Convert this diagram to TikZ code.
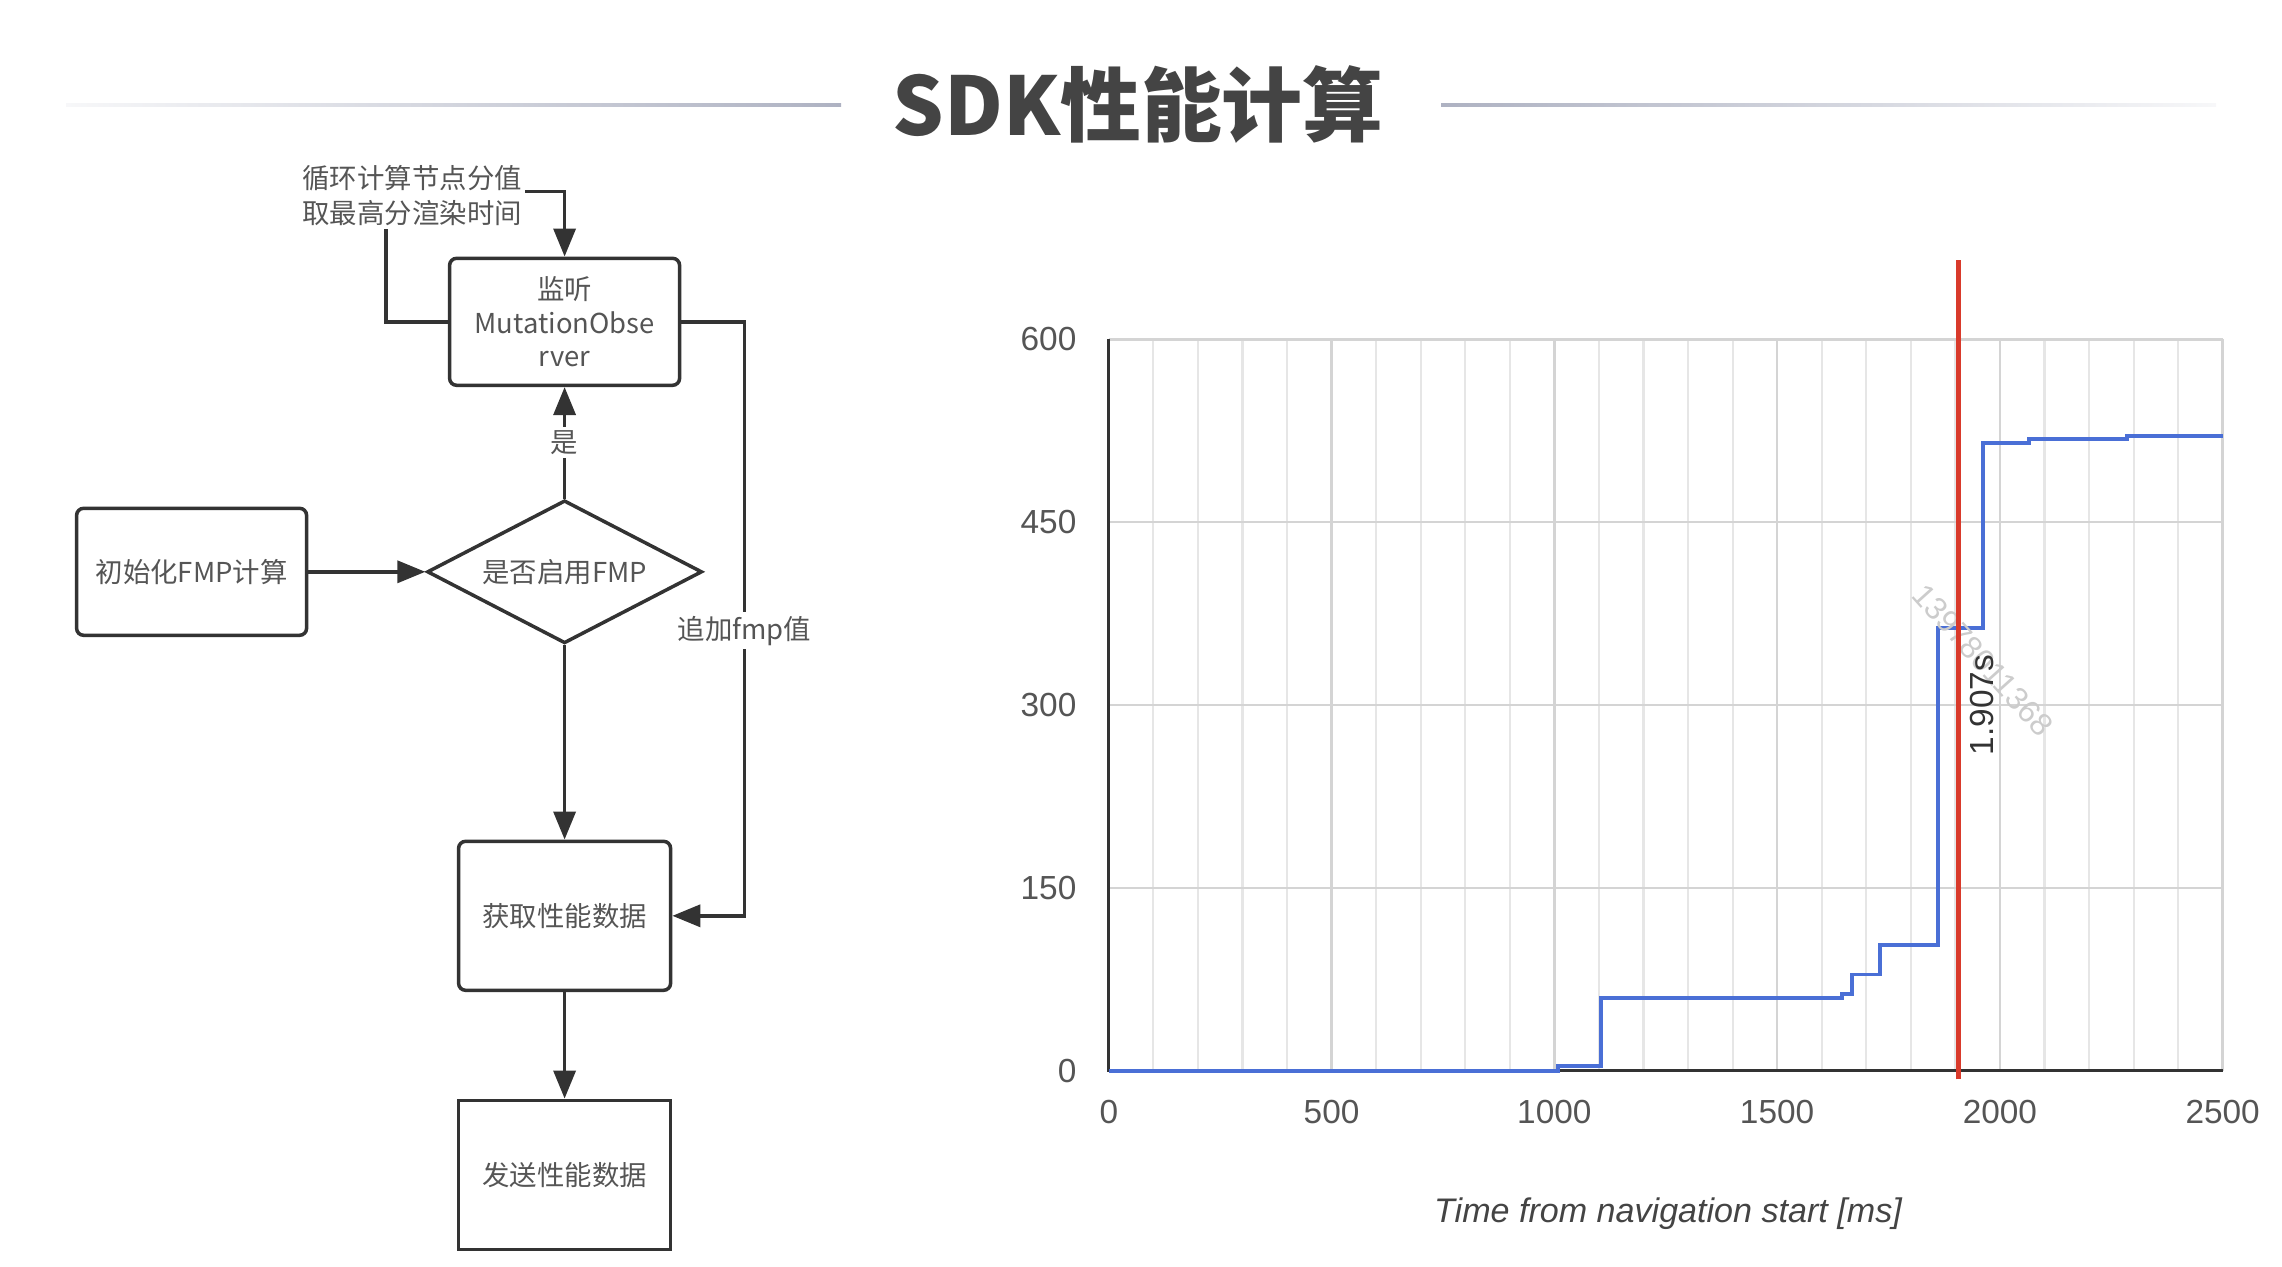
\documentclass[tikz,border=0pt]{standalone}
\usepackage{fontspec}
\usepackage{tikz}
\usetikzlibrary{shapes.geometric, arrows, arrows.meta, positioning}
\newfontfamily\cjk{Noto Sans CJK SC}
\newfontfamily\chartfont{Liberation Sans}
\definecolor{linegray}{HTML}{333333}
\definecolor{textgray}{HTML}{555555}
\definecolor{titlegray}{HTML}{444444}
\definecolor{rulegray}{HTML}{AEB2C2}
\definecolor{gridgray}{HTML}{E6E6E6}
\definecolor{gridmajor}{HTML}{D4D4D4}
\definecolor{fmpblue}{HTML}{4A6FD6}
\definecolor{markred}{HTML}{D93A2B}
\tikzstyle{process} = [rectangle, rounded corners=2pt, minimum width=2.3cm,
minimum height=1.27cm, text centered, draw=linegray, line width=1pt,
text=textgray, align=center, font=\cjk\fontsize{7.8}{9.5}\selectfont]
\tikzstyle{decision} = [diamond, minimum width=2.75cm, minimum height=1.43cm,
inner sep=1pt, text centered, draw=linegray, line width=1pt, text=textgray,
font=\cjk\fontsize{7.8}{9.5}\selectfont]
\tikzstyle{note} = [align=left, fill=white, inner sep=1pt, text=textgray,
font=\cjk\fontsize{7.8}{10}\selectfont]
\tikzstyle{edgelabel} = [fill=white, inner sep=1pt, text=textgray,
font=\cjk\fontsize{7.8}{9.5}\selectfont]
\tikzstyle{arrow} = [line width=1pt, draw=linegray,
-{Triangle[length=2.8mm, width=2.2mm]}]
\tikzstyle{ticklabel} = [text=textgray, font=\chartfont\fontsize{9.5}{11}\selectfont]

\begin{document}
\begin{tikzpicture}[node distance=2.5cm]
\useasboundingbox (0,0) rectangle (22.82,-12.66);

% title
\node(title)[text=titlegray, font=\cjk\bfseries\fontsize{23}{28}\selectfont]
at (11.38,-1.05){SDK性能计算};
\shade[left color=rulegray!10, right color=rulegray] (0.66,-1.068) rectangle (8.41,-1.038);
\shade[left color=rulegray, right color=rulegray!10] (14.41,-1.068) rectangle (22.16,-1.038);

% flowchart
\node(monitor)[process] at (5.646,-3.218){监听\\MutationObse\\rver};
\node(decide)[decision, below of=monitor, aspect=1.9]{是否启用FMP};
\node(init)[process, left of=decide, xshift=-1.23cm]{初始化FMP计算};
\node(fetch)[process, below of=decide, yshift=-0.94cm, minimum width=2.12cm,
minimum height=1.49cm]{获取性能数据};
\node(send)[process, below of=fetch, yshift=-0.09cm, minimum width=2.12cm,
minimum height=1.49cm, sharp corners]{发送性能数据};
\coordinate(loop) at (3.862,-1.916);

\draw[arrow](init) -- (decide);
\draw[arrow](decide) -- node[edgelabel]{是}(monitor);
\draw[arrow](decide) -- (fetch);
\draw[arrow](fetch) -- (send);
\draw[arrow](monitor.east) -- ++(0.63,0) |- node[edgelabel, pos=0.26]{追加fmp值}(fetch.east);
\draw[arrow](monitor.west) -| (loop) node[note, xshift=0.26cm, yshift=-0.04cm]{循环计算节点分值\\取最高分渲染时间}
-| (monitor.north);

% chart
\begin{scope}[shift={(11.088,-10.708)}, x=0.0044587cm, y=0.01219cm]
\foreach \t in {100,200,...,2500}
  \draw[gridgray, line width=0.6pt] (\t,0) -- (\t,600);
\foreach \t in {500,1000,...,2500}
  \draw[gridmajor, line width=0.7pt] (\t,0) -- (\t,600);
\foreach \v in {150,300,450,600}
  \draw[gridmajor, line width=0.7pt] (0,\v) -- (2500,\v);
\draw[linegray, line width=0.8pt] (0,600) -- (0,0) -- (2500,0);
\foreach \v in {0,150,...,600}
  \node[ticklabel, anchor=east] at (-45,\v){\v};
\foreach \t in {0,500,...,2500}
  \node[ticklabel] at (\t,-34){\t};
\draw[fmpblue, line width=1.1pt] plot[const plot] coordinates {(0,0) (1008,4)
(1105,60) (1645,63) (1668,79) (1730,103) (1862,363) (1963,515) (2065,518)
(2285,521) (2500,521)};
\node(wmark)[rotate=-48, text=black!20, font=\chartfont\fontsize{9}{11}\selectfont]
at (1962,337){13978011368};
\draw[markred, line width=1.4pt] (1907,-7) -- (1907,665);
\node(fmp)[rotate=90, text=linegray, font=\chartfont\fontsize{9.5}{11}\selectfont]
at (1959,300){1.907s};
\end{scope}
\node(xlabel)[text=titlegray, font=\chartfont\itshape\fontsize{9.7}{12}\selectfont]
at (16.68,-12.14){Time from navigation start [ms]};

\end{tikzpicture}
\end{document}
